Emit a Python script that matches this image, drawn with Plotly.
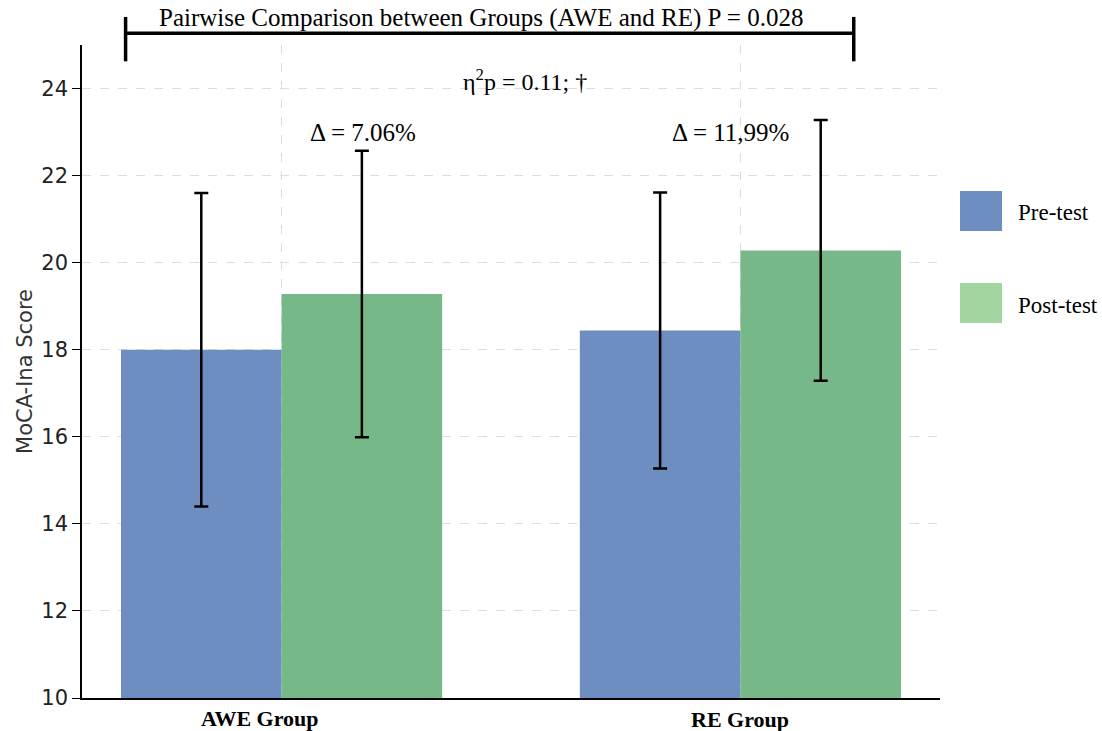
import plotly.graph_objects as go

groups = ["AWE Group", "RE Group"]
group_pos = [0, 1]
pre_mean = [18.0, 18.44]
pre_sd = [3.6, 3.17]
post_mean = [19.28, 20.28]
post_sd = [3.29, 3.0]
post_sd_minus = [3.29, 2.99]
delta_labels = ["Δ = 7.06%", "Δ = 11,99%"]
series_names = ["Pre-test", "Post-test"]
yticks = [10, 12, 14, 16, 18, 20, 22, 24]

BLUE = "#6e8dc0"
GREEN = "#77b888"
GREEN_LEG = "#a2d5a0"
SERIF = "Liberation Serif, Times New Roman, serif"

fig = go.Figure()
fig.add_trace(go.Bar(
    x=group_pos, y=pre_mean, width=0.35, offset=-0.35, name=series_names[0],
    marker=dict(color=BLUE, line=dict(width=0)),
    error_y=dict(type="data", array=pre_sd, color="black", thickness=2.5, width=7),
    showlegend=False))
fig.add_trace(go.Bar(
    x=group_pos, y=post_mean, width=0.35, offset=0, name=series_names[1],
    marker=dict(color=GREEN, line=dict(width=0)),
    error_y=dict(type="data", array=post_sd, arrayminus=post_sd_minus, symmetric=False,
                 color="black", thickness=2.5, width=7),
    showlegend=False))

fig.update_layout(
    width=1102, height=731,
    margin=dict(l=82, r=162, t=45, b=33),
    plot_bgcolor="white", paper_bgcolor="white",
    barmode="overlay",
    xaxis=dict(range=[-0.435, 1.435], tickvals=group_pos, showticklabels=False,
               ticks="", showgrid=True, gridcolor="#dddddd", griddash="dash", gridwidth=1,
               showline=True, linecolor="black", linewidth=1.5, zeroline=False),
    yaxis=dict(range=[10, 25], tickvals=yticks, ticks="outside", ticklen=8, tickcolor="black",
               tickfont=dict(family="DejaVu Sans", size=21, color="#222"),
               showgrid=True, gridcolor="#dddddd", griddash="dash", gridwidth=1,
               showline=True, linecolor="black", linewidth=1.5, zeroline=False,
               title=dict(text="MoCA-Ina Score", font=dict(family="DejaVu Sans", size=21, color="#333"),
                          standoff=3)),
)

# group labels
for gx, gname, dy in zip([0 - 0.047, 1], groups, [-20, -21]):
    fig.add_annotation(x=gx, y=0, xref="x", yref="paper", yshift=dy, yanchor="middle",
                       text=f"<b>{gname}</b>", showarrow=False,
                       font=dict(family=SERIF, size=22, color="black"))

# delta labels
for gx, lab, gy in zip([0.178, 0.978], delta_labels, [23.0, 23.0]):
    fig.add_annotation(x=gx, y=gy, xref="x", yref="y", yanchor="middle", text=lab, showarrow=False,
                       font=dict(family=SERIF, size=25, color="black"))

# bracket
bx0, bx1 = -0.34, 1.247
fig.add_shape(type="line", xref="x", yref="paper", x0=bx0, x1=bx1, y0=1.018, y1=1.018,
              line=dict(color="black", width=3.5))
for bx in [bx0, bx1]:
    fig.add_shape(type="line", xref="x", yref="paper", x0=bx, x1=bx, y0=0.975, y1=1.043,
                  line=dict(color="black", width=3.5))
fig.add_annotation(x=0.435, y=(698 - 18) / 653, xref="x", yref="paper", yanchor="middle",
                   text="Pairwise Comparison between Groups (AWE and RE) P = 0.028",
                   showarrow=False, font=dict(family=SERIF, size=25, color="black"))
fig.add_annotation(x=0.53, y=24.2, xref="x", yref="y", yanchor="middle",
                   text="η<sup>2</sup>p = 0.11; †", showarrow=False,
                   font=dict(family=SERIF, size=24, color="black"))

# legend drawn manually
leg = [(series_names[0], BLUE, 211, 213), (series_names[1], GREEN_LEG, 303, 305)]
for name, col, cy, ty in leg:
    fig.add_shape(type="rect", xref="paper", yref="paper",
                  x0=(960 - 82) / 858, x1=(1002 - 82) / 858,
                  y0=(698 - (cy + 20)) / 653, y1=(698 - (cy - 20)) / 653,
                  fillcolor=col, line=dict(width=0))
    fig.add_annotation(xref="paper", yref="paper", x=(1016 - 82) / 858, y=(698 - ty) / 653,
                       text=name, showarrow=False, xanchor="left", yanchor="middle",
                       font=dict(family=SERIF, size=23, color="black"))

fig.write_html("out.html", config={"displayModeBar": False},
               post_script="document.body.style.margin='0px';")
